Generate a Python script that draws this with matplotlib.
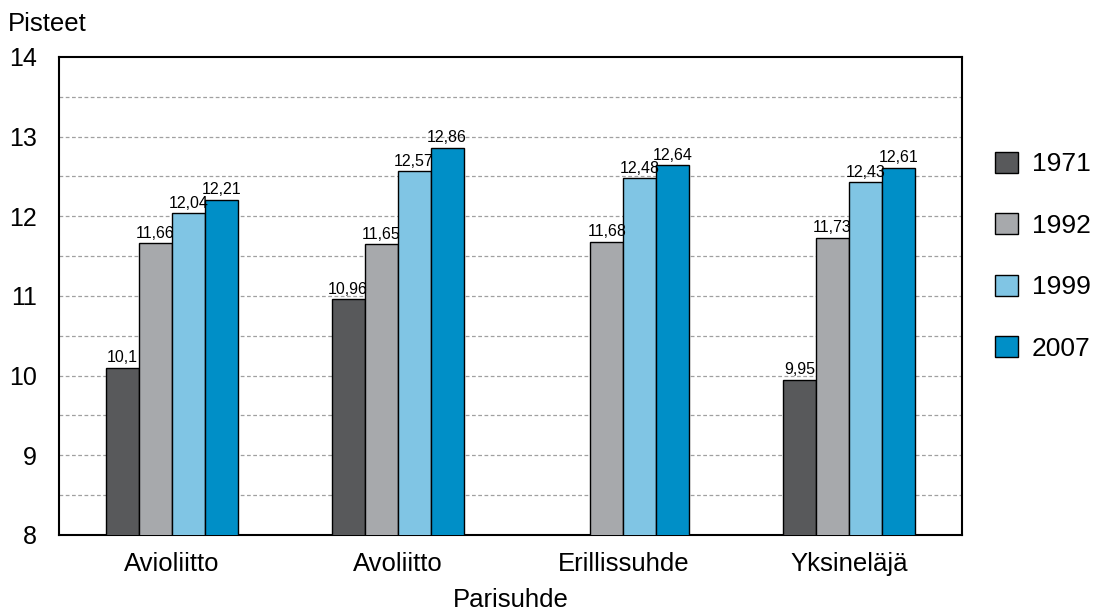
import numpy as np
import matplotlib
matplotlib.use("Agg")
import matplotlib.pyplot as plt
from matplotlib import font_manager

plt.rcParams['font.family'] = ['Liberation Sans', 'DejaVu Sans']

# data
categories = ["Avioliitto", "Avoliitto", "Erillissuhde", "Yksineläjä"]
years = ["1971", "1992", "1999", "2007"]
v1971 = [10.1, 10.96, np.nan, 9.95]
v1992 = [11.66, 11.65, 11.68, 11.73]
v1999 = [12.04, 12.57, 12.48, 12.43]
v2007 = [12.21, 12.86, 12.64, 12.61]
labels1971 = ["10,1", "10,96", "", "9,95"]
labels1992 = ["11,66", "11,65", "11,68", "11,73"]
labels1999 = ["12,04", "12,57", "12,48", "12,43"]
labels2007 = ["12,21", "12,86", "12,64", "12,61"]

series = [v1971, v1992, v1999, v2007]
series_labels = [labels1971, labels1992, labels1999, labels2007]
colors = ["#58595b", "#a7a9ac", "#80c5e4", "#008fc7"]

# narrow font for the value labels if available
names = {f.name for f in font_manager.fontManager.ttflist}
narrow = 'Liberation Sans Narrow' if 'Liberation Sans Narrow' in names else 'Liberation Sans'

fig = plt.figure(figsize=(10.96, 6.14), dpi=100)
ax = fig.add_axes([0.0538, 0.1287, 0.8239, 0.7785])

x = np.arange(len(categories)) + 0.5
w = 0.146
for i, (vals, labs) in enumerate(zip(series, series_labels)):
    pos = x + (i - 1.5) * w
    ax.bar(pos, vals, width=w, color=colors[i], edgecolor='black', linewidth=1,
           label=years[i], zorder=3)
    for p, v, t in zip(pos, vals, labs):
        if not np.isnan(v):
            ax.text(p, v + 0.03, t, ha='center', va='bottom', fontsize=11.5,
                    family=narrow, zorder=4)

ax.set_xlim(0, 4)
ax.set_ylim(8, 14)
ax.set_yticks(range(8, 15))
for yv in np.arange(8.5, 14, 0.5):
    ax.axhline(yv, color='#a0a0a0', linestyle=(0, (3, 2)), linewidth=0.9, zorder=1)
ax.set_xticks(x)
ax.set_xticklabels(categories)
ax.tick_params(axis='x', length=0, labelsize=18.5, pad=12)
ax.tick_params(axis='y', which='both', length=0, labelsize=18, pad=16)
for s in ax.spines.values():
    s.set_linewidth(1.5)

ax.set_xlabel("Parisuhde", fontsize=18.5, labelpad=9)
fig.text(0.007, 0.942, "Pisteet", fontsize=18.5, ha='left', va='bottom')

leg = ax.legend(loc='center left', bbox_to_anchor=(1.025, 0.583), frameon=False,
                fontsize=19, handlelength=0.85, handleheight=0.85,
                labelspacing=1.4, handletextpad=0.55, borderaxespad=0)
for h in leg.legend_handles:
    h.set_linewidth(1)

fig.savefig("out.png", dpi=100)
